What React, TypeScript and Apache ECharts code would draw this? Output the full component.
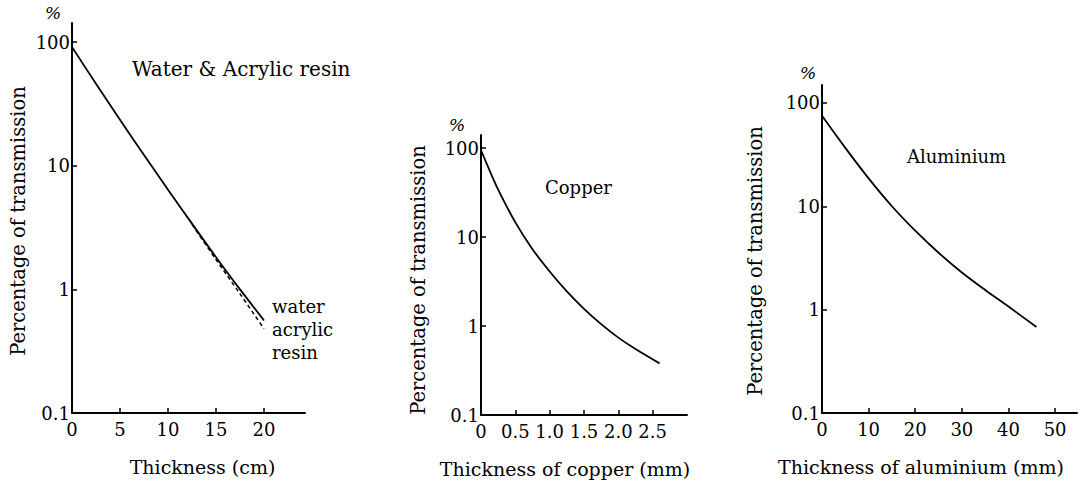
import React, { useEffect, useRef } from "react";
import * as echarts from "echarts";

const FONT = "'DejaVu Serif', 'Liberation Serif', serif";

// Water & acrylic resin (thickness in cm, transmission in %)
const waterThickness = [0, 2.5, 5, 7.5, 10, 12.5, 15, 17.5, 20];
const waterValues = [91, 46, 23.5, 12.2, 6.4, 3.4, 1.82, 1.0, 0.56];
const acrylicThickness = [12.5, 15, 17.5, 20];
const acrylicValues = [3.35, 1.74, 0.92, 0.48];

// Copper (thickness in mm)
const copperThickness = [0, 0.1, 0.25, 0.5, 0.75, 1.0, 1.25, 1.5, 1.75, 2.0, 2.25, 2.6];
const copperValues = [95, 62, 34, 14.6, 7.3, 4.1, 2.45, 1.56, 1.05, 0.74, 0.55, 0.38];

// Aluminium (thickness in mm)
const aluminiumThickness = [0, 5, 10, 15, 20, 25, 30, 35, 40, 46];
const aluminiumValues = [75, 36.7, 18.6, 10, 5.8, 3.55, 2.29, 1.55, 1.07, 0.68];

// Tick values
const percentTicks = [0.1, 1, 10, 100];
const cmTicks = [0, 5, 10, 15, 20];
const copperTicks = [0, 0.5, 1.0, 1.5, 2.0, 2.5];
const aluminiumTicks = [0, 10, 20, 30, 40, 50];

const zip = (xs: number[], ys: number[]) => xs.map((x, i) => [x, ys[i]]);

const fmtPercent = (v: number) => (v < 0.5 ? "0.1" : String(Math.round(v)));

function makeX(
  gridIndex: number,
  max: number,
  ticks: number[],
  name: string,
  fmt: (v: number) => string,
  padding: number[]
) {
  return {
    gridIndex,
    type: "value",
    min: 0,
    max,
    axisLine: { show: true, onZero: false, lineStyle: { color: "#000", width: 2 } },
    axisTick: {
      show: true,
      inside: true,
      length: 5,
      customValues: ticks,
      lineStyle: { color: "#000", width: 1.5 },
    },
    axisLabel: {
      show: true,
      customValues: ticks,
      color: "#000",
      fontFamily: FONT,
      fontSize: 18,
      margin: 7,
      formatter: (v: number) => fmt(v),
    },
    splitLine: { show: false },
    name,
    nameLocation: "middle",
    nameGap: 44,
    nameTextStyle: { color: "#000", fontFamily: FONT, fontSize: 19, padding },
  };
}

function makeY(gridIndex: number, max: number, nameGap: number, padding: number[]) {
  return {
    gridIndex,
    type: "log",
    logBase: 10,
    min: 0.1,
    max,
    axisLine: { show: true, onZero: false, lineStyle: { color: "#000", width: 2 } },
    axisTick: {
      show: true,
      inside: true,
      length: 5,
      customValues: percentTicks,
      lineStyle: { color: "#000", width: 1.5 },
    },
    axisLabel: {
      show: true,
      customValues: percentTicks,
      color: "#000",
      fontFamily: FONT,
      fontSize: 18,
      margin: 2,
      formatter: (v: number) => fmtPercent(v),
    },
    splitLine: { show: false },
    minorTick: { show: false },
    name: "Percentage of transmission",
    nameLocation: "middle",
    nameGap,
    nameTextStyle: { color: "#000", fontFamily: FONT, fontSize: 19.5, padding },
  };
}

const lineBase = {
  type: "line",
  showSymbol: false,
  symbol: "none",
  smooth: 0.3,
  lineStyle: { color: "#000", width: 1.8 },
  itemStyle: { color: "#000" },
  silent: true,
};

export default function App() {
  const ref = useRef<HTMLDivElement>(null);

  useEffect(() => {
    if (!ref.current) return;
    const chart = echarts.init(ref.current, undefined, { renderer: "svg" });
    const titleStyle = { color: "#000", fontFamily: FONT, fontWeight: "normal" as const };
    const pctStyle = { text: "%", fontFamily: FONT, fontSize: 17, fontStyle: "italic", fill: "#000" };
    chart.setOption({
      animation: false,
      backgroundColor: "#fff",
      title: [
        { text: "Water & Acrylic resin", left: 132, top: 59, padding: 0, textStyle: { ...titleStyle, fontSize: 20 } },
        { text: "Copper", left: 545, top: 178, padding: 0, textStyle: { ...titleStyle, fontSize: 18 } },
        { text: "Aluminium", left: 907, top: 147, padding: 0, textStyle: { ...titleStyle, fontSize: 18 } },
      ],
      graphic: [
        { type: "text", left: 45, top: 4, style: pctStyle },
        { type: "text", left: 449, top: 116, style: pctStyle },
        { type: "text", left: 800, top: 64, style: pctStyle },
      ],
      grid: [
        { left: 72, top: 23, width: 233, height: 390, containLabel: false, outerBoundsMode: "none" },
        { left: 481, top: 135, width: 206, height: 280, containLabel: false, outerBoundsMode: "none" },
        { left: 822, top: 85, width: 255, height: 328, containLabel: false, outerBoundsMode: "none" },
      ],
      xAxis: [
        makeX(0, 24.27, cmTicks, "Thickness (cm)", (v) => String(v), [0, 0, 0, 28]),
        makeX(1, 3.0, copperTicks, "Thickness of copper (mm)", (v) => (v === 0 ? "0" : v.toFixed(1)), [0, 38, 0, 0]),
        makeX(2, 54.7, aluminiumTicks, "Thickness of aluminium (mm)", (v) => String(v), [0, 57, 0, 0]),
      ],
      yAxis: [makeY(0, 142.5, 44, [0, 6, 0, 0]), makeY(1, 140, 53, [0, 10, 0, 0]), makeY(2, 149, 57, [0, 24, 0, 0])],
      series: [
        {
          ...lineBase,
          name: "water",
          xAxisIndex: 0,
          yAxisIndex: 0,
          data: zip(waterThickness, waterValues),
          endLabel: {
            show: true,
            formatter: "water",
            color: "#000",
            fontFamily: FONT,
            fontSize: 18,
            distance: 8,
            offset: [0, -14],
          },
        },
        {
          ...lineBase,
          name: "acrylic resin",
          xAxisIndex: 0,
          yAxisIndex: 0,
          data: zip(acrylicThickness, acrylicValues),
          lineStyle: { color: "#000", width: 1.5, type: [4, 3] },
          endLabel: {
            show: true,
            formatter: "acrylic\nresin",
            color: "#000",
            fontFamily: FONT,
            fontSize: 18,
            lineHeight: 23,
            distance: 8,
            offset: [0, 12],
          },
        },
        {
          ...lineBase,
          name: "copper",
          xAxisIndex: 1,
          yAxisIndex: 1,
          data: zip(copperThickness, copperValues),
        },
        {
          ...lineBase,
          name: "aluminium",
          xAxisIndex: 2,
          yAxisIndex: 2,
          data: zip(aluminiumThickness, aluminiumValues),
        },
      ],
    });
    return () => chart.dispose();
  }, []);

  return (
    <div
      ref={ref}
      style={{ position: "absolute", left: 0, top: 0, width: 1080, height: 480, background: "#fff" }}
    />
  );
}
